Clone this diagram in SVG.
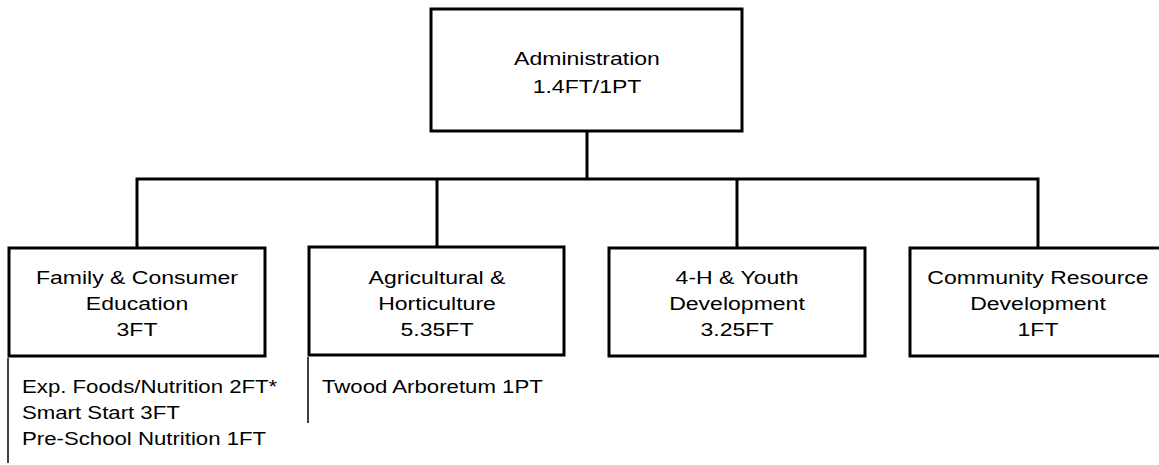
<svg xmlns="http://www.w3.org/2000/svg" width="1159" height="465" viewBox="0 0 1159 465">
<style>
.box{fill:#fff;stroke:#000;stroke-width:3}
.con{fill:none;stroke:#000;stroke-width:3;stroke-linecap:square}
.thin{fill:none;stroke:#000;stroke-width:1.5}
text{font-family:"Liberation Sans",Arial,sans-serif;font-size:18.5px;fill:#000}
.c{text-anchor:middle}
</style>
<rect width="1159" height="465" fill="#fff"/>
<g id="connectors">
<path class="con" d="M587,131 V179 M137,179 H1038 M137,179 V247 M437,179 V247 M737,179 V247 M1038,179 V247"/>
</g>
<g id="admin">
<rect class="box" x="431" y="9" width="311" height="122"/>
<text class="c" transform="translate(587,65) scale(1.245,1)">Administration</text>
<text class="c" transform="translate(587,93) scale(1.245,1)">1.4FT/1PT</text>
</g>
<g id="family">
<rect class="box" x="9" y="248" width="256" height="108"/>
<text class="c" transform="translate(137,284) scale(1.245,1)">Family &amp; Consumer</text>
<text class="c" transform="translate(137,310) scale(1.245,1)">Education</text>
<text class="c" transform="translate(137,336) scale(1.245,1)">3FT</text>
</g>
<g id="family-programs">
<line class="thin" x1="8" y1="358" x2="8" y2="463"/>
<text transform="translate(22,393) scale(1.2,1)">Exp. Foods/Nutrition 2FT*</text>
<text transform="translate(22,419) scale(1.2,1)">Smart Start 3FT</text>
<text transform="translate(22,445) scale(1.2,1)">Pre-School Nutrition 1FT</text>
</g>
<g id="agri">
<rect class="box" x="309" y="247" width="255" height="108"/>
<text class="c" transform="translate(437,284) scale(1.245,1)">Agricultural &amp;</text>
<text class="c" transform="translate(437,310) scale(1.245,1)">Horticulture</text>
<text class="c" transform="translate(437,336) scale(1.245,1)">5.35FT</text>
</g>
<g id="agri-programs">
<line class="thin" x1="308" y1="357" x2="308" y2="423"/>
<text transform="translate(322,393) scale(1.2,1)">Twood Arboretum 1PT</text>
</g>
<g id="youth">
<rect class="box" x="609" y="248" width="256" height="108"/>
<text class="c" transform="translate(737,284) scale(1.245,1)">4-H &amp; Youth</text>
<text class="c" transform="translate(737,310) scale(1.245,1)">Development</text>
<text class="c" transform="translate(737,336) scale(1.245,1)">3.25FT</text>
</g>
<g id="community">
<rect class="box" x="910" y="248" width="256" height="108"/>
<text class="c" transform="translate(1038,284) scale(1.245,1)">Community Resource</text>
<text class="c" transform="translate(1038,310) scale(1.245,1)">Development</text>
<text class="c" transform="translate(1038,336) scale(1.245,1)">1FT</text>
</g>
</svg>
